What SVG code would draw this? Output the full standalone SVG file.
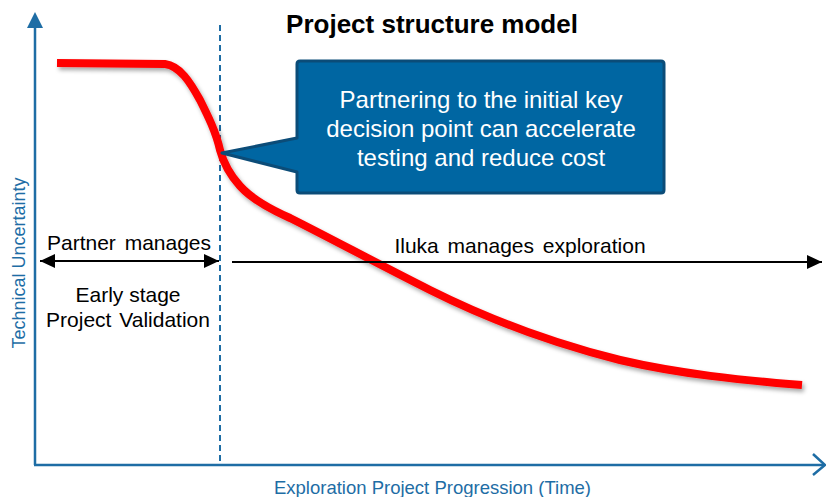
<svg xmlns="http://www.w3.org/2000/svg" width="826" height="497" viewBox="0 0 826 497">
<defs>
<style>
.axis{stroke:#1E6DA5;stroke-width:2.5;fill:none}
.ax{fill:#1E6DA5;font-family:"Liberation Sans",Arial,sans-serif}
.lbl{fill:#000;font-family:"Liberation Sans",Arial,sans-serif;font-size:21px;text-anchor:middle}
.arr{stroke:#000;stroke-width:2.2;fill:none}
.co{fill:#fff;font-family:"Liberation Sans",Arial,sans-serif;font-size:24px;text-anchor:middle}
</style>
<marker id="ah" viewBox="0 0 10 10" refX="10" refY="5" markerWidth="15" markerHeight="14" markerUnits="userSpaceOnUse" orient="auto-start-reverse" preserveAspectRatio="none">
<path d="M0,0 L10,5 L0,10 Z" fill="#000"/>
</marker>
<filter id="sh" x="-10%" y="-10%" width="120%" height="130%">
<feDropShadow dx="2" dy="3" stdDeviation="2" flood-color="#000" flood-opacity="0.35"/>
</filter>
</defs>
<rect width="826" height="497" fill="#fff"/>
<g id="axes">
<line class="axis" x1="35" y1="465" x2="35" y2="24"/>
<path d="M35,12 L27,28 L43,28 Z" fill="#1E6DA5"/>
<line class="axis" x1="34" y1="465" x2="824" y2="465"/>
<path class="axis" d="M813,454 L825,465 L813,475"/>
<text class="ax" font-size="18.5" x="432.5" y="494" text-anchor="middle">Exploration Project Progression (Time)</text>
<text class="ax" font-size="18" transform="translate(25,263) rotate(-90)" text-anchor="middle">Technical Uncertainty</text>
</g>
<text id="title" x="432" y="33" text-anchor="middle" font-family="'Liberation Sans',Arial,sans-serif" font-size="26" font-weight="bold" fill="#000">Project structure model</text>
<line id="divider" x1="220" y1="25" x2="220" y2="462" stroke="#1E6DA5" stroke-width="2" stroke-dasharray="6,4"/>
<g id="curve">
<path d="M57,63 L165,64 C180,66 190,82 200,100 C208,116 216,132 220,150 C224,165 230,175 240,186 C250,197 265,207 290,218 C330,238 380,265 430,290 C500,325 560,345 620,360 C680,374 740,380 802,385" stroke="#FF0000" stroke-width="8" fill="none" stroke-linejoin="round" filter="url(#sh)"/>
</g>
<g id="callout">
<path d="M297,64 Q297,61 300,61 L661,61 Q664,61 664,64 L664,190 Q664,193 661,193 L300,193 Q297,193 297,190 L297,172 L222,153 L297,138 Z" fill="#0066A2" stroke="#0B4C78" stroke-width="3" stroke-linejoin="round"/>
<text class="co" x="481" y="108">Partnering to the initial key</text>
<text class="co" x="481" y="137">decision point can accelerate</text>
<text class="co" x="481" y="166">testing and reduce cost</text>
</g>
<g id="connectors">
<line class="arr" x1="40" y1="261" x2="219" y2="261" marker-start="url(#ah)" marker-end="url(#ah)"/>
<line class="arr" x1="232" y1="262" x2="822" y2="262" marker-end="url(#ah)"/>
</g>
<g id="partner">
<text class="lbl" x="129" y="250" word-spacing="3">Partner manages</text>
<text class="lbl" x="128" y="302">Early stage</text>
<text class="lbl" x="128" y="327" word-spacing="2">Project Validation</text>
</g>
<g id="iluka">
<text class="lbl" x="520" y="253" word-spacing="3">Iluka manages exploration</text>
</g>
</svg>
